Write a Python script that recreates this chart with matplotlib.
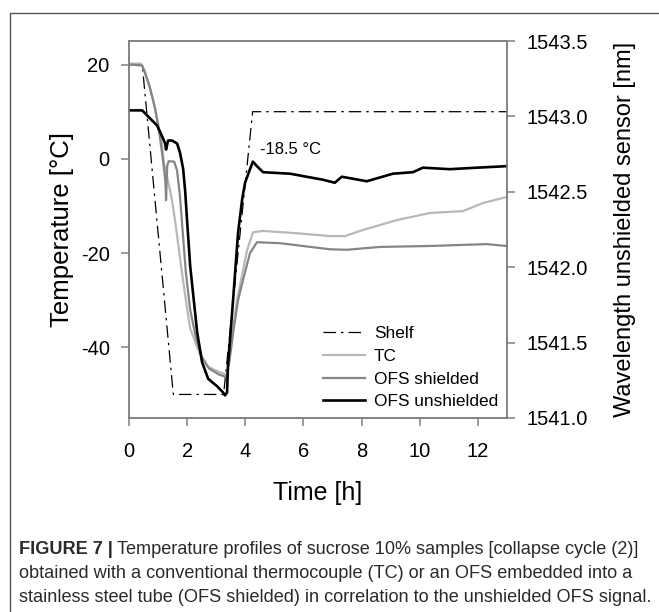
import matplotlib
matplotlib.use('Agg')
import matplotlib.pyplot as plt
from matplotlib.patches import Rectangle

plt.rcParams['font.family'] = ['Liberation Sans', 'DejaVu Sans']
plt.rcParams['axes.unicode_minus'] = False

# shelf temperature [°C]
shelf_t = [0, 0.45, 1.52, 3.25, 4.25, 13.0]
shelf_T = [20, 20, -50, -50, 10, 10]

# thermocouple [°C]
tc_t = [0, 0.4, 0.55, 0.8, 1.0, 1.13, 1.2, 1.35, 1.48, 1.6, 1.75, 1.86, 2.0, 2.1,
        2.44, 2.68, 3.0, 3.23, 3.37, 3.45, 3.71, 4.06, 4.26, 4.61, 5.78, 6.91,
        7.43, 8.05, 9.22, 10.35, 11.49, 11.73, 12.17, 13.0]
tc_T = [20.2, 20.2, 18.5, 13, 7.5, 3, -1, -5, -9, -14, -21, -26, -32, -36,
        -41.5, -44, -45, -45.5, -45.9, -42, -30, -19.4, -15.6, -15.3, -15.8, -16.4,
        -16.4, -15.1, -13, -11.5, -11.1, -10.5, -9.4, -8.1]

# OFS in steel tube [°C]
shield_t = [0, 0.45, 0.7, 0.9, 1.05, 1.17, 1.25, 1.27, 1.31, 1.36, 1.55, 1.65,
            1.75, 1.85, 1.95, 2.1, 2.3, 2.5, 2.75, 3.1, 3.35, 3.45, 3.6, 3.75,
            3.92, 4.16, 4.4, 5.19, 6.91, 7.5, 8.63, 10.35, 12.31, 13.0]
shield_T = [20, 19.8, 15.5, 10.5, 5, -0.5, -5, -8.8, -1.5, -0.5, -0.6, -2.5,
            -8, -16, -24, -32, -38, -42, -44.5, -45.8, -46.3, -43, -36, -30,
            -25.7, -20, -17.7, -17.9, -19.2, -19.3, -18.7, -18.5, -18.1, -18.5]

# unshielded OFS wavelength [nm]
bare_t = [0, 0.45, 0.65, 0.96, 1.13, 1.24, 1.27, 1.34, 1.48, 1.65, 1.75, 1.86,
          1.93, 1.99, 2.10, 2.34, 2.51, 2.72, 3.03, 3.23, 3.30, 3.37, 3.40, 3.58,
          3.75, 3.89, 3.99, 4.16, 4.26, 4.40, 4.61, 5.54, 6.67, 7.08, 7.32, 8.18,
          9.08, 9.77, 10.11, 11.04, 11.97, 13.0]
bare_nm = [1543.04, 1543.04, 1543.00, 1542.94, 1542.87, 1542.82, 1542.78, 1542.84,
           1542.84, 1542.82, 1542.76, 1542.65, 1542.50, 1542.32, 1542.01, 1541.57,
           1541.37, 1541.26, 1541.21, 1541.17, 1541.15, 1541.17, 1541.34, 1541.79,
           1542.23, 1542.45, 1542.56, 1542.65, 1542.70, 1542.67, 1542.63, 1542.62,
           1542.58, 1542.56, 1542.60, 1542.57, 1542.62, 1542.63, 1542.66, 1542.65,
           1542.66, 1542.67]

spine_col = '#808080'

fig = plt.figure(figsize=(6.59, 6.12), dpi=100)
ax = fig.add_axes([0.196, 0.317, 0.573, 0.616])
ax2 = ax.twinx()

l1, = ax.plot(shelf_t, shelf_T, color='black', lw=0.9, linestyle=(0, (10, 4, 2, 4)), label='Shelf')
l2, = ax.plot(tc_t, tc_T, color='#b8b8b8', lw=1.6, label='TC')
l3, = ax.plot(shield_t, shield_T, color='#858585', lw=1.6, label='OFS shielded')
l4, = ax2.plot(bare_t, bare_nm, color='black', lw=1.9, label='OFS unshielded')

ax.set_xlim(0, 13)
ax.set_ylim(-55, 25)
ax2.set_ylim(1541.0, 1543.5)
ax.set_xticks([0, 2, 4, 6, 8, 10, 12])
ax.set_yticks([-40, -20, 0, 20])
ax2.set_yticks([1541.0, 1541.5, 1542.0, 1542.5, 1543.0, 1543.5])
ax2.set_yticklabels(['%.1f' % v for v in ax2.get_yticks()])

for a in (ax, ax2):
    for s in a.spines.values():
        s.set_color(spine_col)
        s.set_linewidth(1.1)
    a.tick_params(colors=spine_col, labelcolor='black', labelsize=14.5, width=1.1, length=5.5)
ax.tick_params(axis='x', pad=12)
ax.tick_params(axis='y', pad=8.5)
ax2.tick_params(axis='y', pad=8.5)

ax.set_xlabel('Time [h]', fontsize=18, labelpad=14)
ax.set_ylabel('Temperature [°C]', fontsize=18.5, labelpad=5)
ax2.set_ylabel('Wavelength unshielded sensor [nm]', fontsize=17, labelpad=19)

ax.text(4.5, 1.9, '-18.5 °C', fontsize=12, va='center', ha='left')

ax2.legend(handles=[l1, l2, l3, l4], loc='lower right', frameon=False, fontsize=12.4,
           handlelength=2.45, handletextpad=0.5, labelspacing=0.45, borderaxespad=0.1)

# figure frame
fig.patches.append(Rectangle((9.5 / 659, -0.1), 1.2, 1.1 - 12.7 / 612, transform=fig.transFigure,
                             fill=False, edgecolor='#555555', lw=1.0))

cap_font = ['Liberation Sans Narrow', 'Liberation Sans', 'DejaVu Sans']
cap_size = 13.1
cap_col = '#2a2a2a'
bold = fig.text(19 / 659, 1 - 550 / 612, 'FIGURE 7 |', fontsize=cap_size, family=cap_font,
                weight='bold', va='center', color=cap_col)
fig.canvas.draw()
bb = bold.get_window_extent()
fig.text(bb.x1 / 659 + 0.006, 1 - 550 / 612,
         'Temperature profiles of sucrose 10% samples [collapse cycle (2)]',
         fontsize=cap_size, family=cap_font, va='center', color=cap_col)
fig.text(19 / 659, 1 - 574 / 612,
         'obtained with a conventional thermocouple (TC) or an OFS embedded into a',
         fontsize=cap_size, family=cap_font, va='center', color=cap_col)
fig.text(19 / 659, 1 - 597 / 612,
         'stainless steel tube (OFS shielded) in correlation to the unshielded OFS signal.',
         fontsize=cap_size, family=cap_font, va='center', color=cap_col)

plt.savefig('out.png', dpi=100)
